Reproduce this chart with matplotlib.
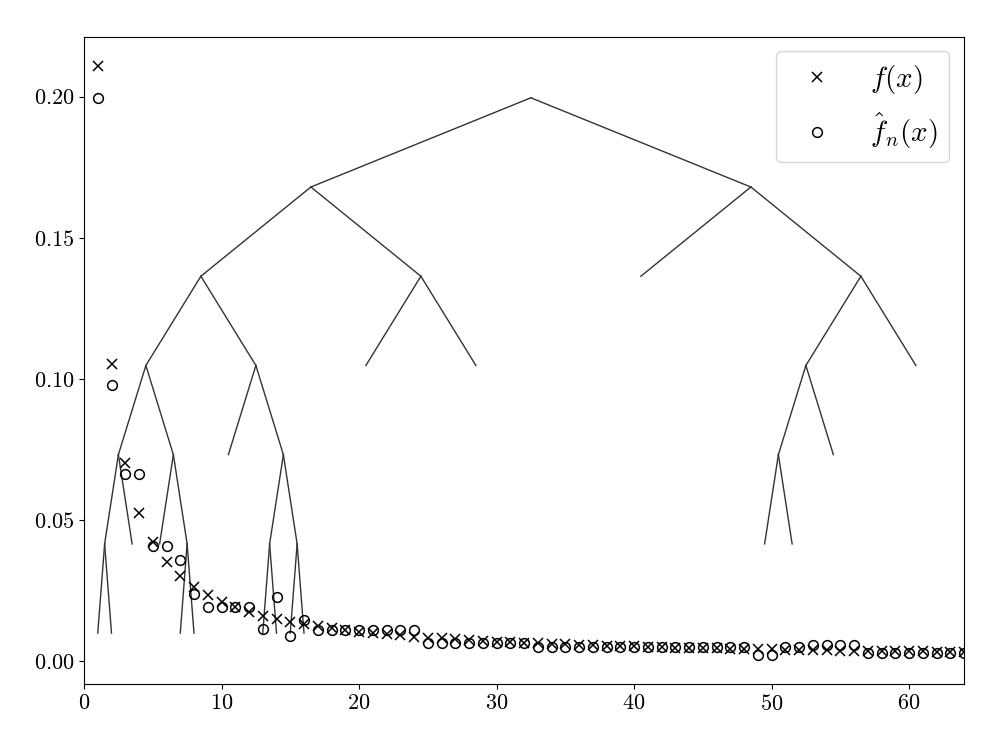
import matplotlib
matplotlib.use("Agg")
import matplotlib.pyplot as plt
import numpy as np

#%% Style - computer modern look
plt.rcParams['font.family'] = 'serif'
plt.rcParams['font.serif'] = ['cmr10', 'DejaVu Serif']
plt.rcParams['mathtext.fontset'] = 'cm'
plt.rcParams['axes.formatter.use_mathtext'] = True

#%% Data
x_vals = np.arange(1, 65)

# true density f(x)
f_true = [0.2108, 0.1054, 0.0703, 0.0527, 0.0422, 0.0351, 0.0301, 0.0264,
          0.0234, 0.0211, 0.0192, 0.0176, 0.0162, 0.0151, 0.0141, 0.0132,
          0.0124, 0.0117, 0.0111, 0.0105, 0.0100, 0.0096, 0.0092, 0.0088,
          0.0084, 0.0081, 0.0078, 0.0075, 0.0073, 0.0070, 0.0068, 0.0066,
          0.0064, 0.0062, 0.0060, 0.0059, 0.0057, 0.0055, 0.0054, 0.0053,
          0.0051, 0.0050, 0.0049, 0.0048, 0.0047, 0.0046, 0.0045, 0.0044,
          0.0043, 0.0042, 0.0041, 0.0041, 0.0040, 0.0039, 0.0038, 0.0038,
          0.0037, 0.0036, 0.0036, 0.0035, 0.0035, 0.0034, 0.0033, 0.0033]

# estimate f_hat_n(x)
f_est = [0.1996, 0.0980, 0.0664, 0.0664, 0.0408, 0.0408, 0.0359, 0.0238,
         0.0191, 0.0191, 0.0191, 0.0191, 0.0116, 0.0227, 0.0089, 0.0148,
         0.0110, 0.0110, 0.0110, 0.0110, 0.0110, 0.0110, 0.0110, 0.0110,
         0.0066, 0.0066, 0.0066, 0.0066, 0.0066, 0.0066, 0.0066, 0.0066,
         0.0052, 0.0052, 0.0052, 0.0052, 0.0052, 0.0052, 0.0052, 0.0052,
         0.0052, 0.0052, 0.0052, 0.0052, 0.0052, 0.0052, 0.0052, 0.0052,
         0.0024, 0.0024, 0.0050, 0.0050, 0.0058, 0.0058, 0.0058, 0.0058,
         0.0031, 0.0031, 0.0031, 0.0031, 0.0031, 0.0031, 0.0031, 0.0031]

# partition tree: heights of each level and node positions per level
tree_heights = [0.1996, 0.1680, 0.1364, 0.1048, 0.0732, 0.0416, 0.0100]
tree_nodes = [
    [32.5],
    [16.5, 48.5],
    [8.5, 24.5, 40.5, 56.5],
    [4.5, 12.5, 20.5, 28.5, 52.5, 60.5],
    [2.5, 6.5, 10.5, 14.5, 50.5, 54.5],
    [1.5, 3.5, 5.5, 7.5, 13.5, 15.5, 49.5, 51.5],
    [1, 2, 7, 8, 13, 14, 15, 16],
]

#%% Plot
fig, ax = plt.subplots(figsize=(10, 7.5), dpi=100)
fig.subplots_adjust(left=0.084, right=0.964, top=0.951, bottom=0.088)

# tree edges, each child joined to its closest parent on the level above
for lev in range(1, len(tree_nodes)):
    parents = np.array(tree_nodes[lev - 1])
    for cx in tree_nodes[lev]:
        px = parents[np.argmin(np.abs(parents - cx))]
        ax.plot([px, cx], [tree_heights[lev - 1], tree_heights[lev]],
                color='#333333', lw=1.0)

ax.plot(x_vals, f_true, 'x', color='k', markersize=6.5, mew=1.1,
        label=r'$f(x)$')
ax.plot(x_vals, f_est, 'o', color='k', markerfacecolor='none',
        markersize=7, mew=1.1, label=r'$\hat{f}_n(x)$')

ax.set_xlim(0, 64)
ax.set_xticks([0, 10, 20, 30, 40, 50, 60])
ax.tick_params(labelsize=16)

ax.legend(loc='upper right', fontsize=21)

plt.savefig('out.png')
